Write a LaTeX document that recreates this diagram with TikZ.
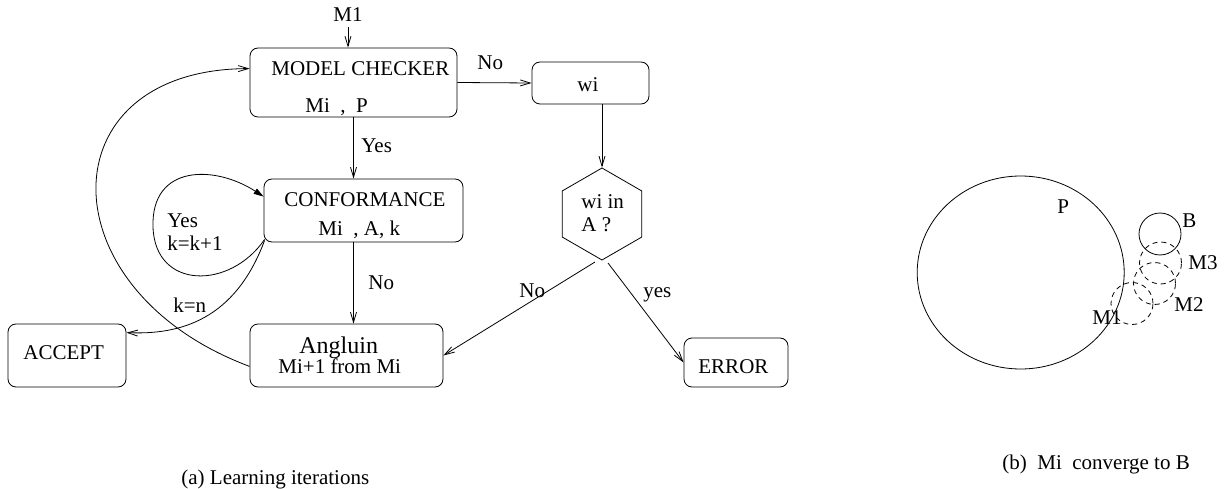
\documentclass[tikz,border=0pt]{standalone}
\usepackage{fontspec}
\setmainfont{Liberation Serif}
\usetikzlibrary{arrows.meta,shapes.geometric,calc}
\begin{document}
\begin{tikzpicture}[x=1pt,y=-1pt,
  line width=0.8pt,
  box/.style={draw,rounded corners=8pt,inner sep=0pt},
  txt/.style={anchor=base west,inner sep=0pt,font=\fontsize{21}{25}\selectfont},
  bigtxt/.style={anchor=base west,inner sep=0pt,font=\fontsize{24}{28}\selectfont},
  arr/.style={-{Straight Barb[length=10pt,width=6pt]}},
  farr/.style={-{Triangle[length=10pt,width=6pt]}},
  dcirc/.style={dash pattern=on 5pt off 4pt}]
\useasboundingbox (0,0) rectangle (1231,489);

% boxes
\node[box,minimum width=207pt,minimum height=69pt] (mc) at (353.5,82.5) {};
\node[box,minimum width=117pt,minimum height=42pt] (wi) at (590.5,83) {};
\node[box,minimum width=199pt,minimum height=63pt] (conf) at (363.5,210.5) {};
\node[box,minimum width=193pt,minimum height=63pt] (ang) at (346.5,355.5) {};
\node[box,minimum width=118pt,minimum height=63pt] (acc) at (67,355.5) {};
\node[box,minimum width=104pt,minimum height=49pt] (err) at (736,362.5) {};
\node[draw,regular polygon,regular polygon sides=6,shape border rotate=30,
      minimum size=92pt,inner sep=0pt] (hex) at (602,214) {};

% texts
\node[txt] (m1) at (333,22) {M1};
\node[txt] (mct) at (271,76) {MODEL CHECKER};
\node[txt] (mcp) at (305,113) {Mi\ \ ,\ \ P};
\node[txt] (wit) at (577,92) {wi};
\node[txt] (conft) at (284,207) {CONFORMANCE};
\node[txt] (confp) at (318,235) {Mi\ \ , A, k};
\node[bigtxt] (angt) at (299,353) {Angluin};
\node[txt] (angp) at (278,373) {Mi+1 from Mi};
\node[txt] (acct) at (23,359) {ACCEPT};
\node[txt] (errt) at (698,373) {ERROR};
\node[txt] (hext1) at (581,208) {wi in};
\node[txt] (hext2) at (581,232) {A ?};

% edge labels
\node[txt] (lno1) at (477,70) {No};
\node[txt] (lyes1) at (361,153) {Yes};
\node[txt] (lyes2) at (167,228) {Yes};
\node[txt] (lkk) at (167,250) {k=k+1};
\node[txt] (lno2) at (368,289) {No};
\node[txt] (lkn) at (173,312) {k=n};
\node[txt] (lno3) at (519,297) {No};
\node[txt] (lyes3) at (643,297) {yes};

% connectors
\draw[arr,shorten <=5pt] (m1.south) -- (m1.south |- mc.north);
\draw[arr] (mc.east) -- (wi.west);
\draw[arr] (mc.south) -- (mc.south |- conf.north);
\draw[arr] (conf.south -| mc.south) -- (ang.north -| mc.south);
\draw[arr] (hex.90 |- wi.south) -- (hex.90);
\coordinate (hexL) at (595,262);
\coordinate (hexR) at (608,263);
\draw[arr] (hexL) -- (ang.east);
\draw[arr] (hexR) -- (err.west);
\draw[farr] ($(conf.south west)+(1,-3)$) .. controls (230,290) and (155,290) .. (153,227)
  .. controls (151,164) and (215,165) .. ($(conf.north west)+(0,18)$);
\draw[arr] ($(conf.south west)+(1,-2)$) .. controls (235,320) and (180,335) .. ($(acc.north east)+(0,9)$);
\draw[arr] ($(ang.south west)+(0,-21)$) .. controls (45,290) and (45,69) .. ($(mc.north west)+(0,21)$);

% right figure
\draw (1020.7,272.5) ellipse [x radius=103.5pt, y radius=96.5pt];
\draw (1160,234) circle [radius=21pt];
\draw[dcirc] (1160.5,263) circle [radius=21pt];
\draw[dcirc] (1154.5,283.5) circle [radius=21pt];
\draw[dcirc] (1132,303.5) circle [radius=21pt];
\node[txt] (lp) at (1057,214) {P};
\node[txt] (lb) at (1182,228) {B};
\node[txt] (lm3) at (1188,269) {M3};
\node[txt] (lm2) at (1174,311) {M2};
\node[txt] (lm1) at (1092,324) {M1};

% captions
\node[txt] (capa) at (181,484) {(a) Learning iterations};
\node[txt] (capb) at (1002,469) {(b)\ \ Mi\ \ converge to B};
\end{tikzpicture}
\end{document}
